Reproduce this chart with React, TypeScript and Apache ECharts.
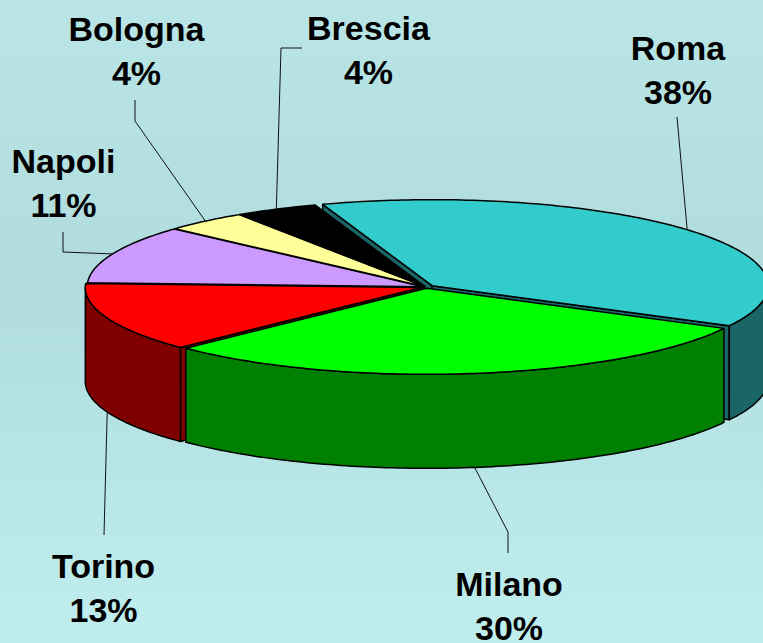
import React, { useEffect, useRef } from "react";
import * as echarts from "echarts";

// ---- data ----
const cities = ["Roma", "Milano", "Torino", "Napoli", "Bologna", "Brescia"];
const shares = [38, 30, 13, 11, 4, 4];

// ---- styles ----
const topColors = ["#33CCCC", "#00FF00", "#FF0000", "#CC99FF", "#FFFF99", "#000000"];
const sideColors = ["#1A6666", "#008000", "#800000", "#664C80", "#80804C", "#000000"];

// ---- layout ----
const CX = 426;
const CY = 287;
const RX = 336;
const RY = 86;
const DEPTH = 94;
const START_DEG = 341;
const explode = [8, 5, 5, 3, 3, 3];
const labelCenters: number[][] = [
  [678, 69.5],
  [509, 605.5],
  [103.5, 587.5],
  [63.5, 182.5],
  [136.5, 51],
  [368.5, 49.5],
];
const leaderBends: number[][][] = [
  [[677, 117]],
  [[508, 532], [508, 553]],
  [[104, 535]],
  [[63, 252], [63, 232]],
  [[135, 121], [135, 100]],
  [[281, 48], [302, 48]],
];

const rad = (d: number) => (d * Math.PI) / 180;

function renderItem(params: any, api: any) {
  const i = params.dataIndex;
  const value = api.value(0);
  const total = shares.reduce((s, v) => s + v, 0);
  const before = shares.slice(0, i).reduce((s, v) => s + v, 0);
  const a0 = START_DEG + (before / total) * 360;
  const a1 = a0 + (value / total) * 360;
  const mid = (a0 + a1) / 2;
  const ox = explode[i] * Math.sin(rad(mid));
  const oy = -explode[i] * Math.cos(rad(mid)) * (RY / RX);
  const P = (deg: number, r = 1, dz = 0) => [
    CX + ox + RX * r * Math.sin(rad(deg)),
    CY + oy - RY * r * Math.cos(rad(deg)) + dz,
  ];
  const arc = (from: number, to: number, dz = 0) => {
    const pts: number[][] = [];
    const n = Math.max(2, Math.ceil(Math.abs(to - from) / 1));
    for (let k = 0; k <= n; k++) pts.push(P(from + ((to - from) * k) / n, 1, dz));
    return pts;
  };
  const children: any[] = [];
  const stroke = { stroke: "#000", lineWidth: 1.5, lineJoin: "round" };
  const zOf = (near: number) => 10 + 40 * (near + 1);

  // outer wall (front half only)
  for (let k = 0; k <= 1; k++) {
    const lo = Math.max(a0, 90 + 360 * k);
    const hi = Math.min(a1, 270 + 360 * k);
    if (lo < hi) {
      const pts = arc(lo, hi).concat(arc(hi, lo, DEPTH));
      children.push({
        type: "polygon",
        shape: { points: pts },
        style: { fill: sideColors[i], ...stroke },
        z2: zOf(-Math.cos(rad((lo + hi) / 2))),
      });
    }
  }
  // radial cut faces
  const C = P(0, 0);
  const CB = P(0, 0, DEPTH);
  if (Math.sin(rad(a0)) < 0) {
    children.push({
      type: "polygon",
      shape: { points: [C, P(a0), P(a0, 1, DEPTH), CB] },
      style: { fill: sideColors[i], ...stroke },
      z2: zOf(-Math.cos(rad(a0)) * 0.5),
    });
  }
  if (Math.sin(rad(a1)) > 0) {
    children.push({
      type: "polygon",
      shape: { points: [C, P(a1), P(a1, 1, DEPTH), CB] },
      style: { fill: sideColors[i], ...stroke },
      z2: zOf(-Math.cos(rad(a1)) * 0.5),
    });
  }
  // top face
  children.push({
    type: "polygon",
    shape: { points: [C].concat(arc(a0, a1)) },
    style: { fill: topColors[i], ...stroke },
    z2: 200,
  });

  // leader line
  const m = ((mid % 360) + 360) % 360;
  const front = m > 90 && m < 270;
  const anchor = P(mid, 1, front ? DEPTH : 0);
  children.push({
    type: "polyline",
    shape: { points: [anchor].concat(leaderBends[i]) },
    style: { stroke: "#111", lineWidth: 1, fill: null },
    z2: 210,
  });
  // label
  const pct = Math.round((value / total) * 100);
  children.push({
    type: "text",
    x: labelCenters[i][0],
    y: labelCenters[i][1],
    style: {
      text: cities[i] + "\n" + pct + "%",
      fill: "#000",
      fontSize: 34,
      fontWeight: "bold",
      fontFamily: "'Liberation Sans', Arial, sans-serif",
      align: "center",
      verticalAlign: "middle",
      lineHeight: 44,
    },
    z2: 220,
  });
  return { type: "group", children };
}

export default function App() {
  const ref = useRef<HTMLDivElement>(null);
  useEffect(() => {
    if (!ref.current) return;
    const chart = echarts.init(ref.current, null, { renderer: "svg" });
    chart.setOption({
      animation: false,
      backgroundColor: {
        type: "linear",
        x: 0,
        y: 0,
        x2: 0,
        y2: 1,
        colorStops: [
          { offset: 0, color: "#B9E5E6" },
          { offset: 0.45, color: "#B0DCDD" },
          { offset: 1, color: "#C0EEEE" },
        ],
      },
      series: [
        {
          type: "custom",
          coordinateSystem: "none",
          silent: true,
          renderItem,
          data: shares.map((v, i) => ({ name: cities[i], value: v })),
        },
      ],
    });
    return () => chart.dispose();
  }, []);
  return (
    <div
      ref={ref}
      style={{ position: "fixed", left: 0, top: 0, width: 763, height: 643 }}
    />
  );
}
